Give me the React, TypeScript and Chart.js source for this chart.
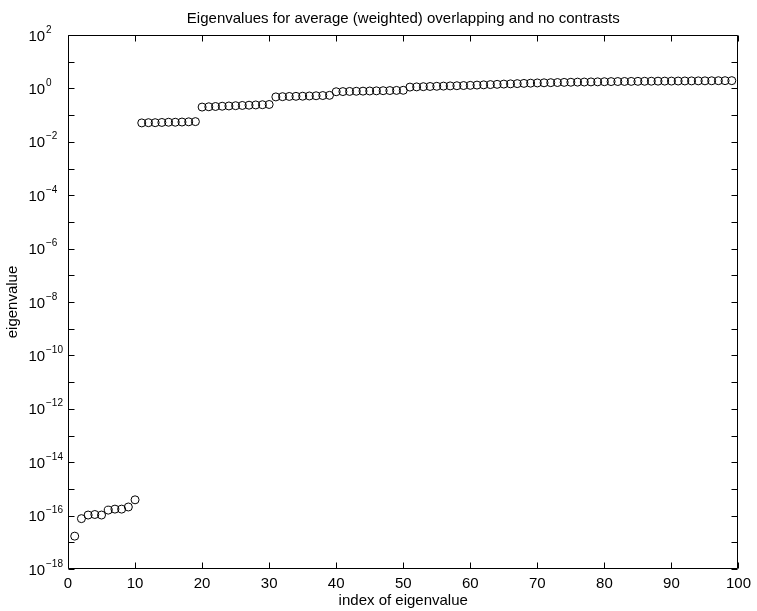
import { useEffect, useRef } from 'react';
import { Chart, registerables } from 'chart.js';

Chart.register(...registerables);

const TITLE = 'Eigenvalues for average (weighted) overlapping and no contrasts';
const X_LABEL = 'index of eigenvalue';
const Y_LABEL = 'eigenvalue';

const X_TICKS = [0, 10, 20, 30, 40, 50, 60, 70, 80, 90, 100];
const Y_DECADES = [-18, -17, -16, -15, -14, -13, -12, -11, -10, -9, -8, -7, -6, -5, -4, -3, -2, -1, 0, 1, 2];
const Y_LABEL_EXPONENTS = [2, 0, -2, -4, -6, -8, -10, -12, -14, -16, -18];

const INDICES = [
  1, 2, 3, 4, 5, 6, 7, 8, 9, 10,
  11, 12, 13, 14, 15, 16, 17, 18, 19, 20,
  21, 22, 23, 24, 25, 26, 27, 28, 29, 30,
  31, 32, 33, 34, 35, 36, 37, 38, 39, 40,
  41, 42, 43, 44, 45, 46, 47, 48, 49, 50,
  51, 52, 53, 54, 55, 56, 57, 58, 59, 60,
  61, 62, 63, 64, 65, 66, 67, 68, 69, 70,
  71, 72, 73, 74, 75, 76, 77, 78, 79, 80,
  81, 82, 83, 84, 85, 86, 87, 88, 89, 90,
  91, 92, 93, 94, 95, 96, 97, 98, 99,
];

const EIGENVALUES = [
  1.7e-17, 7.7e-17, 1.05e-16, 1.1e-16, 1.05e-16, 1.6e-16, 1.75e-16, 1.75e-16, 2.1e-16, 3.9e-16,
  0.051, 0.052, 0.052, 0.053, 0.054, 0.054, 0.055, 0.056, 0.057,
  0.2, 0.205, 0.21, 0.215, 0.22, 0.225, 0.23, 0.235, 0.24, 0.245, 0.25,
  0.48, 0.49, 0.5, 0.505, 0.51, 0.52, 0.53, 0.54, 0.55,
  0.75, 0.76, 0.77, 0.78, 0.79, 0.8, 0.81, 0.82, 0.83, 0.84, 0.85,
  1.12, 1.14, 1.16, 1.18, 1.2, 1.22, 1.24, 1.26, 1.28, 1.3,
  1.33, 1.36, 1.39, 1.42, 1.45, 1.48, 1.51, 1.54, 1.57, 1.6,
  1.62, 1.64, 1.66, 1.68, 1.7, 1.72, 1.73, 1.75, 1.76, 1.78,
  1.8, 1.81, 1.82, 1.83, 1.84, 1.85, 1.86, 1.87, 1.875, 1.88,
  1.89, 1.9, 1.91, 1.915, 1.92, 1.93, 1.94, 1.945, 1.95,
];

const FONT_FAMILY = '"Liberation Sans", Arial, Helvetica, sans-serif';

const matlabAxes = {
  id: 'matlabAxes',
  afterDraw(chart: any) {
    const { ctx, chartArea, scales } = chart;
    const xs = scales.x;
    const ys = scales.y;
    const L = Math.round(chartArea.left) + 0.5;
    const R = Math.round(chartArea.right) - 0.5;
    const T = Math.round(chartArea.top) + 0.5;
    const B = Math.round(chartArea.bottom) - 0.5;
    const TL = 6;
    ctx.save();
    ctx.strokeStyle = '#000';
    ctx.lineWidth = 1;
    ctx.beginPath();
    ctx.rect(L, T, R - L, B - T);
    for (const v of X_TICKS) {
      const px = Math.round(xs.getPixelForValue(v)) + 0.5;
      ctx.moveTo(px, B);
      ctx.lineTo(px, B - TL);
      ctx.moveTo(px, T);
      ctx.lineTo(px, T + TL);
    }
    for (const k of Y_DECADES) {
      const py = Math.round(ys.getPixelForValue(Math.pow(10, k))) + 0.5;
      ctx.moveTo(L, py);
      ctx.lineTo(L + TL, py);
      ctx.moveTo(R, py);
      ctx.lineTo(R - TL, py);
    }
    ctx.stroke();

    ctx.fillStyle = '#000';
    ctx.textAlign = 'left';
    ctx.textBaseline = 'alphabetic';
    for (const e of Y_LABEL_EXPONENTS) {
      const py = ys.getPixelForValue(Math.pow(10, e));
      ctx.font = `15px ${FONT_FAMILY}`;
      ctx.fillText('10', 28.5, py + 5.5);
      ctx.font = `10px ${FONT_FAMILY}`;
      const exp = e < 0 ? '\u2212' + String(-e) : String(e);
      ctx.fillText(exp, 46, py - 2.5);
    }
    ctx.restore();
  },
};

export default function App() {
  const ref = useRef<HTMLCanvasElement>(null);

  useEffect(() => {
    const canvas = ref.current;
    if (!canvas) return;
    const points = INDICES.map((x, i) => ({ x, y: EIGENVALUES[i] }));
    const chart = new Chart(canvas, {
      type: 'scatter',
      data: {
        datasets: [
          {
            data: points,
            showLine: false,
            pointStyle: 'circle',
            pointRadius: 4,
            pointHoverRadius: 4,
            pointBorderWidth: 1,
            pointBorderColor: '#000',
            pointBackgroundColor: 'rgba(0,0,0,0)',
            borderColor: '#000',
            backgroundColor: 'rgba(0,0,0,0)',
            clip: false,
          } as any,
        ],
      },
      options: {
        responsive: false,
        animation: false,
        devicePixelRatio: 1,
        layout: { padding: { left: 0, right: 14, top: 0, bottom: 0 } },
        plugins: {
          legend: { display: false },
          tooltip: { enabled: false },
          title: {
            display: true,
            text: TITLE,
            fullSize: false,
            color: '#000',
            font: { family: FONT_FAMILY, size: 15, weight: 'normal' },
            padding: { top: 10, bottom: 7 },
          },
        },
        scales: {
          x: {
            type: 'linear',
            position: 'bottom',
            min: 0,
            max: 100,
            grid: { display: false, drawTicks: false },
            border: { display: false },
            ticks: {
              color: '#000',
              font: { family: FONT_FAMILY, size: 15 },
              padding: 6,
              maxRotation: 0,
              autoSkip: false,
              stepSize: 10,
            },
            afterBuildTicks: (scale: any) => {
              scale.ticks = X_TICKS.map((v) => ({ value: v }));
            },
            afterFit: (scale: any) => {
              scale.height = 42;
            },
            title: {
              display: true,
              text: X_LABEL,
              color: '#000',
              font: { family: FONT_FAMILY, size: 15 },
              padding: { top: 0, bottom: 1 },
            },
          },
          y: {
            type: 'logarithmic',
            position: 'left',
            min: 1e-18,
            max: 1e2,
            grid: { display: false, drawTicks: false },
            border: { display: false },
            ticks: { display: false },
            afterBuildTicks: (scale: any) => {
              scale.ticks = Y_DECADES.map((k) => ({ value: Math.pow(10, k) }));
            },
            afterFit: (scale: any) => {
              scale.width = 68;
            },
            title: {
              display: true,
              text: Y_LABEL,
              color: '#000',
              font: { family: FONT_FAMILY, size: 15 },
              padding: { top: 4, bottom: 0 },
            },
          },
        },
      } as any,
      plugins: [matlabAxes],
    });
    return () => chart.destroy();
  }, []);

  return (
    <div style={{ position: 'absolute', left: 0, top: 0, width: 757, height: 611 }}>
      <canvas ref={ref} width={757} height={611} style={{ display: 'block', width: 757, height: 611 }} />
    </div>
  );
}
